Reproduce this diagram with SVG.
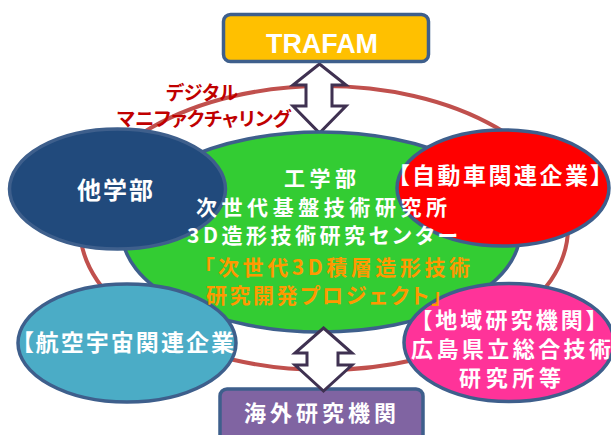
<svg xmlns="http://www.w3.org/2000/svg" width="611" height="435" viewBox="0 0 611 435">
<style>
.jp{font-family:"Noto Sans CJK JP","Noto Sans CJK SC",sans-serif;font-weight:700;font-feature-settings:"palt";}
.w{fill:#FFFFFF;}
.node{stroke:#3E5F8C;stroke-width:3.5;}
.arrow{fill:#FFFFFF;stroke:#3F3151;stroke-width:3;stroke-linejoin:miter;}
</style>
<rect width="611" height="435" fill="#FFFFFF"/>
<g id="ring">
<ellipse cx="324" cy="228" rx="244" ry="142" fill="none" stroke="#C0504D" stroke-width="4"/>
</g>
<g id="label-digital">
<text class="jp" x="166" y="100" font-size="19" fill="#C00000" textLength="72" lengthAdjust="spacingAndGlyphs">デジタル</text>
<text class="jp" x="117" y="126" font-size="19" fill="#C00000" textLength="174" lengthAdjust="spacingAndGlyphs">マニファクチャリング</text>
</g>
<g id="connectors">
<path class="arrow" d="M319.5,64 L346,85 L332,85 L332,106 L346,106 L319.5,133 L293,106 L306,106 L306,85 L293,85 Z"/>
</g>
<g id="node-center">
<ellipse class="node" cx="321" cy="232" rx="199" ry="100" fill="#33CC33"/>
</g>
<g id="node-other-faculty">
<ellipse class="node" cx="117.5" cy="189" rx="108" ry="60" fill="#214A7C"/>
<text class="jp w" x="77" y="199" font-size="24" textLength="76" lengthAdjust="spacing">他学部</text>
</g>
<g id="node-auto">
<ellipse class="node" cx="503" cy="188" rx="106" ry="58" fill="#FF0000"/>
<text class="jp w" x="398" y="184" font-size="23" textLength="204" lengthAdjust="spacing">【自動車関連企業】</text>
</g>
<g id="node-aero">
<ellipse class="node" cx="127" cy="343" rx="109" ry="59" fill="#4BACC6"/>
<text class="jp w" x="22" y="351" font-size="23" textLength="212" lengthAdjust="spacing">【航空宇宙関連企業</text>
</g>
<g id="node-regional">
<ellipse class="node" cx="509" cy="342.5" rx="105" ry="59" fill="#FF3399"/>
<text class="jp w" x="421" y="328" font-size="22" textLength="176" lengthAdjust="spacing">【地域研究機関】</text>
<text class="jp w" x="411" y="357" font-size="22" textLength="200" lengthAdjust="spacing">広島県立総合技術</text>
<text class="jp w" x="459" y="386" font-size="22" textLength="102" lengthAdjust="spacing">研究所等</text>
</g>
<g id="node-trafam">
<rect x="223.5" y="14.5" width="205" height="47" rx="7" ry="7" fill="#FFC000" stroke="#3E5F8C" stroke-width="3.5"/>
<text x="322" y="53" font-family="'Liberation Sans',Arial,sans-serif" font-weight="700" font-size="27" fill="#FFFFFF" text-anchor="middle" textLength="112" lengthAdjust="spacingAndGlyphs">TRAFAM</text>
</g>
<g id="node-overseas">
<rect x="220" y="389" width="203" height="56" rx="7" ry="7" fill="#8064A2" stroke="#3E5F8C" stroke-width="3.5"/>
<text class="jp w" x="244" y="421" font-size="22" textLength="152" lengthAdjust="spacing">海外研究機関</text>
</g>
<g id="connectors-bottom">
<path class="arrow" d="M323.5,328 L352,353 L338,353 L338,365 L352,365 L323.5,391 L295,365 L307,365 L307,353 L295,353 Z"/>
</g>
<g id="node-center-label">
<text class="jp w" x="284" y="186" font-size="21" textLength="72" lengthAdjust="spacing">工学部</text>
<text class="jp w" x="196" y="215" font-size="21" textLength="251" lengthAdjust="spacing">次世代基盤技術研究所</text>
<text class="jp w" x="187" y="243" font-size="21" textLength="271" lengthAdjust="spacing">3D造形技術研究センター</text>
<text class="jp" x="204" y="275" font-size="21" fill="#FF9900" textLength="266" lengthAdjust="spacing">「次世代3D積層造形技術</text>
<text class="jp" x="206" y="303" font-size="21" fill="#FF9900" textLength="236" lengthAdjust="spacing">研究開発プロジェクト」</text>
</g>
</svg>
